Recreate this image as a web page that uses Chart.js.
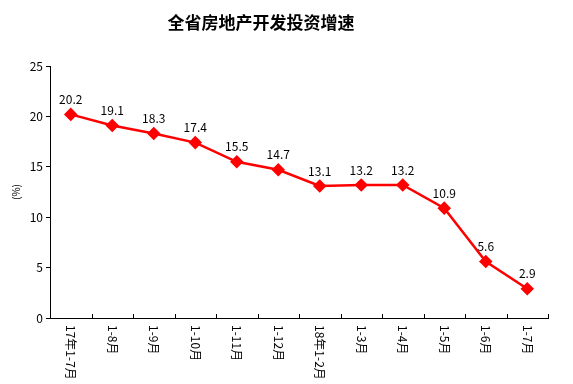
<!DOCTYPE html>
<html>
<head>
<meta charset="utf-8">
<script src="https://cdn.jsdelivr.net/npm/chart.js@4"></script>
<style>
  html, body { margin: 0; padding: 0; background: #fff; }
  #wrap { width: 573px; height: 384px; }
</style>
</head>
<body>
<div id="wrap"><canvas id="chart" width="573" height="384"></canvas></div>
<script>
const chartTitle = '全省房地产开发投资增速';
const months = ['17年1-7月', '1-8月', '1-9月', '1-10月', '1-11月', '1-12月',
                '18年1-2月', '1-3月', '1-4月', '1-5月', '1-6月', '1-7月'];
const growth = [20.2, 19.1, 18.3, 17.4, 15.5, 14.7, 13.1, 13.2, 13.2, 10.9, 5.6, 2.9];
const yTicks = [0, 5, 10, 15, 20, 25];

const font = '"Noto Sans CJK SC", "DejaVu Sans", sans-serif';

// title, vertical x labels, inward x ticks and point values
const extras = {
    id: 'extras',
    afterDraw(chart) {
        const c = chart.ctx;
        const x = chart.scales.x;
        const y = chart.scales.y;
        const area = chart.chartArea;
        c.save();
        c.fillStyle = '#000';
        c.font = 'bold 17px ' + font;
        c.textAlign = 'center';
        c.textBaseline = 'middle';
        c.fillText(chartTitle, 261, 23);

        // tick marks between categories, pointing up
        c.strokeStyle = '#000';
        c.lineWidth = 1;
        const half = (x.getPixelForValue(1) - x.getPixelForValue(0)) / 2;
        for (let i = 0; i < months.length; i++) {
            const px = Math.round(x.getPixelForValue(i) + half) + 0.5;
            c.beginPath();
            c.moveTo(px, area.bottom);
            c.lineTo(px, area.bottom - 4);
            c.stroke();
        }

        // category labels, rotated clockwise
        c.font = '12px ' + font;
        c.textAlign = 'left';
        months.forEach((m, i) => {
            c.save();
            c.translate(x.getPixelForValue(i), area.bottom + 7);
            c.rotate(Math.PI / 2);
            c.fillText(m, 0, 0);
            c.restore();
        });

        // values above points
        c.textAlign = 'center';
        growth.forEach((v, i) => {
            c.fillText(v.toFixed(1), x.getPixelForValue(i), y.getPixelForValue(v) - 15);
        });
        c.restore();
    }
};

new Chart(document.getElementById('chart'), {
    type: 'line',
    data: {
        labels: months,
        datasets: [{
            data: growth,
            borderColor: '#ff0000',
            backgroundColor: '#ff0000',
            borderWidth: 2.5,
            pointStyle: 'rectRot',
            pointRadius: 5,
            pointHoverRadius: 5,
            tension: 0,
            fill: false
        }]
    },
    options: {
        responsive: false,
        animation: false,
        layout: { padding: { left: 0, right: 25, top: 66, bottom: 66 } },
        plugins: {
            legend: { display: false },
            tooltip: { enabled: false }
        },
        scales: {
            x: {
                offset: true,
                grid: { display: false },
                border: { color: '#000', width: 1 },
                ticks: { display: false },
                afterFit(scale) { scale.height = 0; }
            },
            y: {
                min: 0,
                max: 25,
                afterBuildTicks(scale) { scale.ticks = yTicks.map(v => ({ value: v })); },
                grid: { drawOnChartArea: false, color: '#000', tickLength: 4 },
                border: { color: '#000', width: 1 },
                ticks: { color: '#000', font: { family: font, size: 12 }, padding: 3 },
                title: {
                    display: true,
                    text: '(%)',
                    color: '#000',
                    font: { family: font, size: 10 },
                    padding: { top: 10 }
                },
                afterFit(scale) { scale.width = 50; }
            }
        }
    },
    plugins: [extras]
});
</script>
</body>
</html>
